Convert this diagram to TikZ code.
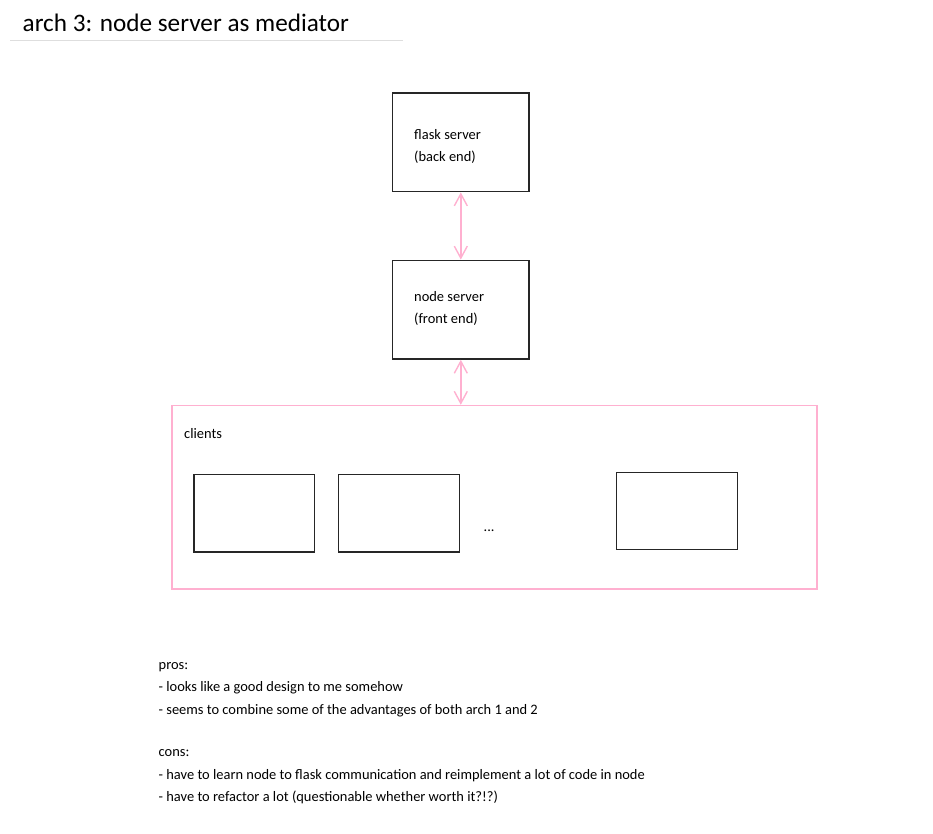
\documentclass[tikz,border=0pt]{standalone}
\usepackage{fontspec}
\setmainfont{Carlito}
\usetikzlibrary{arrows.meta}
\definecolor{pinkline}{RGB}{255,176,208}
\definecolor{rulegray}{RGB}{222,222,222}

\begin{document}
\begin{tikzpicture}[
    x=1pt, y=-1pt,
  box/.style={draw=black!85, line width=1.5pt, inner sep=0pt},
  txt/.style={anchor=base west, inner sep=0pt, font=\fontsize{14.45}{22}\selectfont},
  link/.style={draw=pinkline, line width=1.4pt,
    {Straight Barb[length=12pt,width=13pt]}-{Straight Barb[length=12pt,width=13pt]}}
]
\useasboundingbox (0,0) rectangle (933,834);

% --- title ---
\node[anchor=base west, inner sep=0pt, font=\fontsize{25.2}{30}\selectfont] (title) at (22.5,32) {arch 3: node server as mediator};
\draw[rulegray, line width=1pt] (10,41) -- (403,41);

% --- servers ---
\node[box, minimum width=136.3pt, minimum height=98.7pt] (flask) at (460.8,142.3) {};
\node[txt] (flasktxt1) at (414,140) {flask server};
\node[txt] (flasktxt2) at (414,162) {(back end)};

\node[box, minimum width=136.3pt, minimum height=98.7pt] (nodesrv) at (460.8,309.7) {};
\node[txt] (nodetxt1) at (414,301) {node server};
\node[txt] (nodetxt2) at (414,323) {(front end)};

% --- clients ---
\node[draw=pinkline, line width=1.5pt, inner sep=0pt, minimum width=645pt, minimum height=183.5pt] (clients) at (494.5,497.3) {};
\node[txt] (clientstxt) at (184,438.7) {clients};
\node[box, minimum width=120.7pt, minimum height=77.3pt] (cl1) at (254.3,513.3) {};
\node[box, minimum width=121pt, minimum height=77.3pt] (cl2) at (398.8,513.3) {};
\node[txt] (dots) at (483.5,531.5) {...};
\node[box, minimum width=121pt, minimum height=77.4pt] (cl3) at (677.2,511) {};

% --- links ---
\draw[link] (flask.south) -- (nodesrv.north);
\draw[link] (nodesrv.south) -- (nodesrv.south |- clients.north);

% --- pros / cons ---
\foreach \t/\y [count=\i] in {{pros:}/669, {- looks like a good design to me somehow}/691.5,
    {- seems to combine some of the advantages of both arch 1 and 2}/714,
    {cons:}/756.5, {- have to learn node to flask communication and reimplement a lot of code in node}/779,
    {- have to refactor a lot (questionable whether worth it?!?)}/801}
  \node[txt] (note\i) at (158.5,\y) {\t};
\end{tikzpicture}
\end{document}
